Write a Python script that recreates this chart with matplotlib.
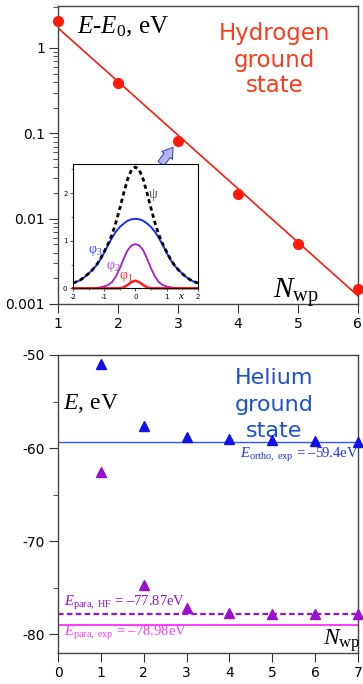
import numpy as np
import matplotlib
matplotlib.use("Agg")
import matplotlib.pyplot as plt

plt.rcParams["font.family"] = "DejaVu Sans"
plt.rcParams["axes.unicode_minus"] = False
plt.rcParams["mathtext.fontset"] = "custom"
plt.rcParams["mathtext.rm"] = "Liberation Serif"
plt.rcParams["mathtext.it"] = "Liberation Serif:italic"

# hydrogen: E - E0 vs number of wave packets
n_h = [1, 2, 3, 4, 5, 6]
de_h = [2.07, 0.386, 0.082, 0.0194, 0.0051, 0.0015]

# helium: energies vs number of wave packets
n_he = [1, 2, 3, 4, 5, 6, 7]
e_ortho = [-51.0, -57.6, -58.8, -59.0, -59.1, -59.2, -59.3]
e_para = [-62.6, -74.7, -77.2, -77.7, -77.8, -77.85, -77.87]
e_ortho_exp = -59.4
e_para_hf = -77.87
e_para_exp = -78.98

# inset: wave packets of the hydrogen ground state
x_in = np.linspace(-2, 2, 33)
psi = [0.11, 0.14, 0.18, 0.24, 0.31, 0.39, 0.49, 0.61, 0.77, 0.93, 1.13, 1.38, 1.68, 2.00, 2.29, 2.49,
       2.55,
       2.49, 2.29, 2.00, 1.68, 1.38, 1.13, 0.93, 0.77, 0.61, 0.49, 0.39, 0.31, 0.24, 0.18, 0.14, 0.11]
phi3 = [0.11, 0.14, 0.18, 0.24, 0.31, 0.39, 0.48, 0.60, 0.75, 0.91, 1.06, 1.19, 1.29, 1.36, 1.42, 1.45,
        1.46,
        1.45, 1.42, 1.36, 1.29, 1.19, 1.06, 0.91, 0.75, 0.60, 0.48, 0.39, 0.31, 0.24, 0.18, 0.14, 0.11]
phi2 = [np.nan, np.nan, np.nan, np.nan, 0.0, 0.005, 0.01, 0.02, 0.04, 0.07, 0.13, 0.25, 0.42, 0.62, 0.80, 0.90,
        0.93,
        0.90, 0.80, 0.62, 0.42, 0.25, 0.13, 0.07, 0.04, 0.02, 0.01, 0.005, 0.0, np.nan, np.nan, np.nan, np.nan]
phi1 = [0, 0, 0, 0, 0, 0, 0, 0, 0, 0, 0, 0, 0.0, 0.02, 0.07, 0.13,
        0.16,
        0.13, 0.07, 0.02, 0.0, 0, 0, 0, 0, 0, 0, 0, 0, 0, 0, 0, 0]

red = "#ff1a0a"
blue = "#1010e8"
purple = "#9a10cc"
magenta = "#ff3cff"

fig = plt.figure(figsize=(3.63, 6.84), dpi=100)

def style(ax):
    for s in ax.spines.values():
        s.set_color("#444444")
        s.set_linewidth(1.0)
    ax.tick_params(which="major", length=6.5, width=0.8, labelsize=10, pad=3, color="#333333")
    ax.tick_params(which="minor", length=3.6, width=0.6, color="#333333")
    ax.tick_params(top=False, right=False)

#%% top panel - hydrogen
ax1 = fig.add_axes([0.160, 0.5556, 0.826, 0.4356])
coef = np.polyfit(n_h, np.log10(de_h), 1)
xx = np.array([n_h[0], n_h[-1]])
ax1.plot(xx, 10 ** np.polyval(coef, xx), color=red, lw=1.2)
ax1.plot(n_h, de_h, "o", color=red, ms=7, clip_on=False, zorder=5)
ax1.set_yscale("log")
ax1.set_xlim(1, 6)
ax1.set_ylim(0.001, 3.1)
ax1.set_xticks(n_h)
ax1.set_yticks([0.001, 0.01, 0.1, 1])
ax1.set_yticklabels(["0.001", "0.01", "0.1", "1"])
ax1.yaxis.set_minor_locator(matplotlib.ticker.LogLocator(base=10, subs=np.arange(2, 10)))
ax1.yaxis.set_minor_formatter(matplotlib.ticker.NullFormatter())
style(ax1)

ax1.text(0.063, 0.909, r"$E$-$E_0$, eV", transform=ax1.transAxes, fontsize=18,
         family="Liberation Serif", va="baseline", ha="left")
for word, yb in zip(["Hydrogen", "ground", "state"], [0.886, 0.797, 0.711]):
    ax1.text(0.723, yb, word, transform=ax1.transAxes, fontsize=16.5, color="#ff3a1a",
             ha="center", va="baseline")
ax1.text(0.717, 0.02, r"$N_{\mathrm{wp}}$", transform=ax1.transAxes, fontsize=21,
         va="baseline", ha="left")

# arrow from the inset to the 3-packet point
ax1.annotate("", xy=(3, 0.082), xytext=(-17, -23), textcoords="offset pixels",
             arrowprops=dict(arrowstyle="simple,head_width=0.8,head_length=0.6,tail_width=0.45",
                             fc="#b0b4f4", ec="#3a3aa0", lw=0.7, shrinkA=0, shrinkB=6,
                             mutation_scale=12))

# inset
axi = fig.add_axes([0.201, 0.5785, 0.344, 0.1815])
axi.plot(x_in, phi3, color="#1a2cff", lw=1.4)
axi.plot(x_in, phi2, color="#a020d0", lw=1.3)
axi.plot(x_in, psi, color="black", lw=2.0, ls=(0, (1.5, 1.2)))
axi.plot(x_in, phi1, color="#ff1a1a", lw=1.8, clip_on=False)
axi.set_xlim(-2, 2)
axi.set_ylim(0, 2.61)
axi.set_xticks([-2, -1, 0, 1, 2])
axi.set_yticks([0, 1, 2])
axi.set_xticks(np.arange(-2, 2.01, 0.5), minor=True)
axi.set_yticks(np.arange(0, 2.6, 0.5), minor=True)
axi.tick_params(which="major", length=2.5, width=0.5, labelsize=5, pad=1.5)
axi.tick_params(which="minor", length=1.5, width=0.4)
for s in axi.spines.values():
    s.set_linewidth(0.8)
axi.text(0.57, 1.96, r"$\mathrm{ψ}$", fontsize=10, color="#555555", ha="center", va="center")
axi.text(-1.30, 0.79, r"$\mathrm{φ}_3$", fontsize=10, color="#3344ff", ha="center", va="center")
axi.text(-0.71, 0.45, r"$\mathrm{φ}_2$", fontsize=10, color="#b040d0", ha="center", va="center")
axi.text(-0.28, 0.23, r"$\mathrm{φ}_1$", fontsize=10, color="#ff3030", ha="center", va="center")
axi.text(1.48, -0.16, r"$x$", fontsize=8, ha="center", va="center", clip_on=False)

#%% bottom panel - helium
ax2 = fig.add_axes([0.160, 0.0458, 0.826, 0.4352])
ax2.axhline(e_ortho_exp, color="#3355ff", lw=1.0)
ax2.axhline(e_para_hf, color=purple, lw=1.6, ls=(0, (2.5, 1.5)))
ax2.axhline(e_para_exp, color=magenta, lw=1.4)
ax2.plot(n_he, e_ortho, "^", color=blue, ms=7.5, clip_on=False, zorder=5)
ax2.plot(n_he, e_para, "^", color=purple, ms=7.5, clip_on=False, zorder=5)
ax2.set_xlim(0, 7)
ax2.set_ylim(-82, -50)
ax2.set_xticks(range(0, 8))
ax2.set_yticks([-80, -70, -60, -50])
ax2.set_yticks([-75, -65, -55], minor=True)
style(ax2)

ax2.text(0.017, 0.82, r"$E$, eV", transform=ax2.transAxes, fontsize=17,
         family="Liberation Serif", va="baseline", ha="left")
for word, yb in zip(["Helium", "ground", "state"], [0.901, 0.812, 0.726]):
    ax2.text(0.72, yb, word, transform=ax2.transAxes, fontsize=16, color="#1a4fd8",
             ha="center", va="baseline")
ax2.text(4.25, -61.1, r"$E_{\mathrm{ortho,\ exp}}$ = " + "\u201359.4eV", fontsize=10.5,
         family="Liberation Serif", color="#2233ee", va="baseline", ha="left")
ax2.text(0.14, -77.0, r"$E_{\mathrm{para,\ HF}}$ = " + "\u201377.87eV", fontsize=10.5,
         family="Liberation Serif", color=purple, va="baseline", ha="left")
ax2.text(0.14, -80.25, r"$E_{\mathrm{para,\ exp}}$ = " + "\u201378.98eV", fontsize=10.5,
         family="Liberation Serif", color=magenta, va="baseline", ha="left")
ax2.text(0.883, 0.026, r"$N_{\mathrm{wp}}$", transform=ax2.transAxes, fontsize=17,
         va="baseline", ha="left")

fig.savefig("out.png", dpi=100)
